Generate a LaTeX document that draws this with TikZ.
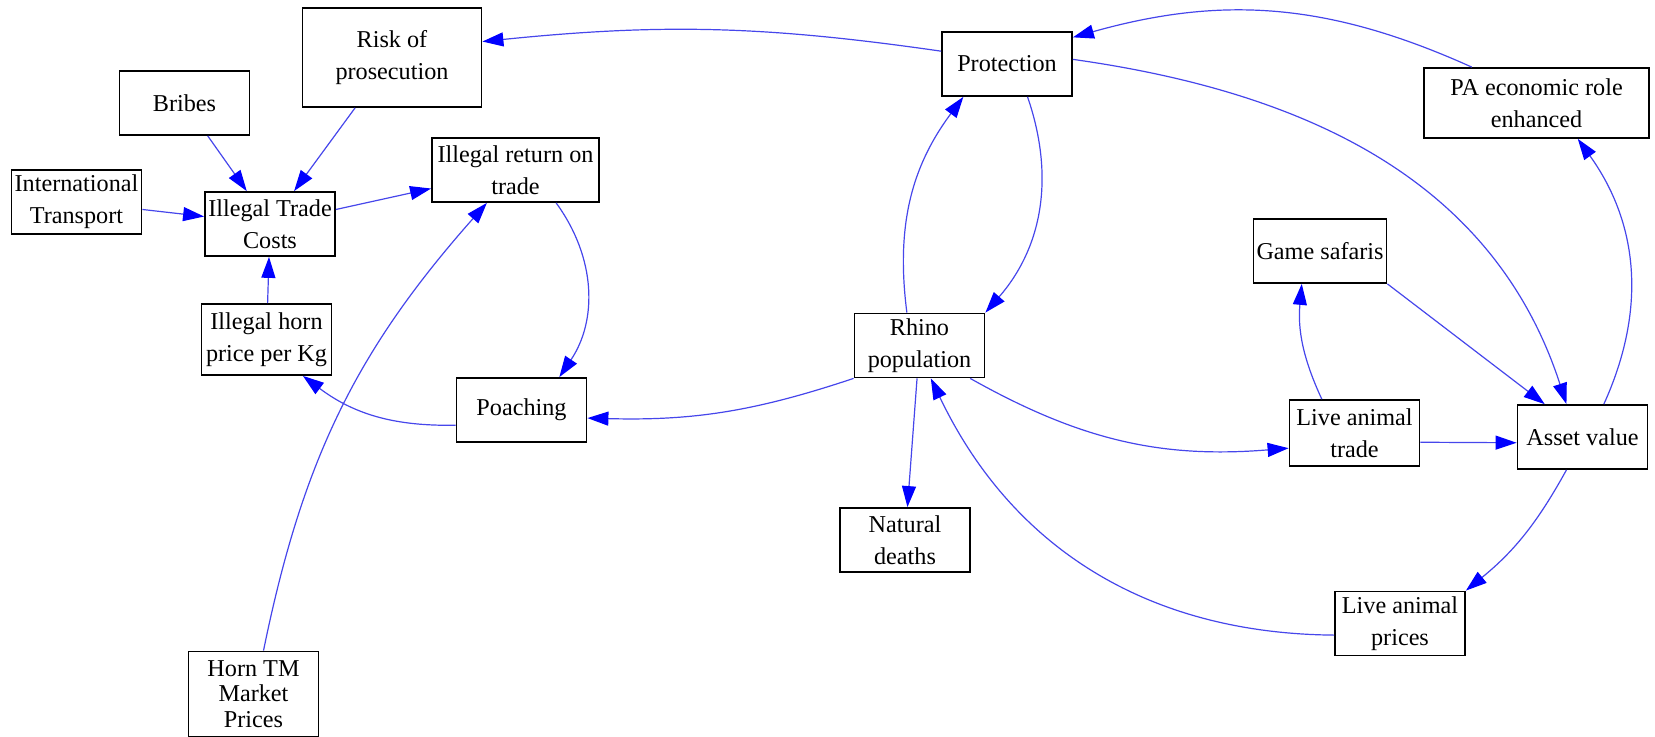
\documentclass[tikz,border=0pt]{standalone}
\usepackage{fontspec}
\setmainfont{Liberation Serif}
\usetikzlibrary{arrows.meta}
\definecolor{linkblue}{RGB}{70,70,235}
\tikzset{%
  box/.style={draw, line width=0.9pt, align=center, minimum width=65pt, minimum height=32pt,
    inner xsep=1.5pt, inner ysep=2pt, font=\fontsize{12.1}{16}\selectfont}, % the variable boxes
  every edge/.style={%
    draw=linkblue, line width=0.6pt, -{Triangle[length=10.5pt, width=7pt, color=blue]}
  }
}

\begin{document}
\begin{tikzpicture}[x=0.5pt, y=0.5pt]
\useasboundingbox (0,0) rectangle (1655,737);

% illegal trade side
\node[box, minimum width=89.5pt, minimum height=49.5pt] (risk) at (392,679.5) {Risk of\\prosecution};
\node[box] (bribes) at (184.5,634) {Bribes};
\node[box] (transport) at (76.5,535) {International\\Transport};
\node[box] (costs) at (270,513) {Illegal Trade\\Costs};
\node[box, minimum width=83.5pt] (ret) at (515.5,567) {Illegal return on\\trade};
\node[box, minimum height=35.5pt] (hornprice) at (266.5,397.5) {Illegal horn\\price per Kg};
\node[box] (poaching) at (521.5,327) {Poaching};
\node[box, minimum height=42.5pt, inner ysep=0.5pt, font=\fontsize{12.1}{12.8}\selectfont] (horntm) at (253.5,43) {Horn TM\\Market\\Prices};

% rhino side
\node[box] (prot) at (1007,673) {Protection};
\node[box] (rhino) at (919.5,391.5) {Rhino\\population};
\node[box] (natural) at (905,197) {Natural\\deaths};
\node[box] (safaris) at (1320,486) {Game safaris};
\node[box, minimum height=33pt] (livetrade) at (1354.5,304) {Live animal\\trade};
\node[box] (asset) at (1582.5,300) {Asset value};
\node[box] (liveprices) at (1400,113.5) {Live animal\\prices};
\node[box, minimum width=112.5pt, minimum height=35pt] (pa) at (1536.5,634) {PA economic role\\enhanced};

\path (prot.169) edge[bend right=7] (risk.10);
\path (pa.151) edge[bend right=20] (prot.22);
\path (prot.4) edge[out=-8, in=108] (asset.116);
\path (rhino.111) edge[bend left=22] (prot.217);
\path (prot.302) edge[bend left=30] (rhino.north east);
\path (rhino.south west) edge[bend left=10] (poaching.353);
\path (poaching.193) edge[bend left=19] (hornprice.315);
\path (hornprice) edge (costs);
\path (bribes) edge (costs);
\path (risk) edge (costs);
\path (transport) edge (costs);
\path (costs) edge (ret);
\path (ret.321) edge[bend left=35] (poaching.41);
\path (horntm.77) edge[bend left=15] (ret.229);
\path (rhino) edge (natural);
\path (liveprices.190) edge[bend left=32] (rhino.289);
\path (rhino.327) edge[bend right=17] (livetrade.193);
\path (livetrade.134) edge[bend left=15] (safaris.241);
\path (safaris.south east) edge (asset.139);
\path (livetrade.352) edge (asset.185);
\path (asset.57) edge[bend right=30] (pa.319);
\path (asset.244) edge[bend left=11] (liveprices.north east);
\end{tikzpicture}
\end{document}
